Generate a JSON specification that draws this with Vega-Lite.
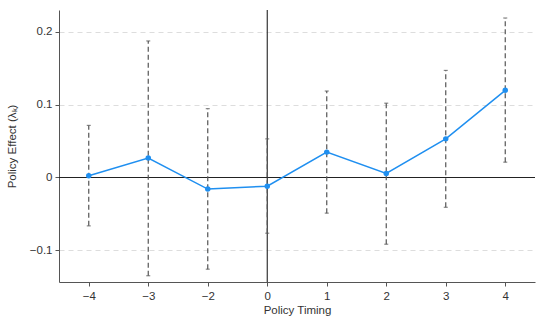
{
  "$schema": "https://vega.github.io/schema/vega-lite/v6.json",
  "autosize": {"type": "none"},
  "padding": {"left": 59, "top": 10, "right": 15, "bottom": 42},
  "width": 476,
  "height": 272,
  "background": "white",
  "config": {
    "font": "Liberation Sans",
    "view": {"stroke": null},
    "axis": {
      "labelFont": "Liberation Sans",
      "titleFont": "Liberation Sans",
      "labelFontSize": 11.5,
      "titleFontSize": 11.5,
      "titleFontWeight": "normal",
      "labelColor": "#333",
      "titleColor": "#333",
      "domainColor": "#555",
      "tickColor": "#555",
      "tickSize": 4
    }
  },
  "data": {
    "values": [
      {"t": -4, "est": 0.0023, "lo": -0.0665, "hi": 0.0715},
      {"t": -3, "est": 0.0266, "lo": -0.135, "hi": 0.1875},
      {"t": -2, "est": -0.016, "lo": -0.126, "hi": 0.0945},
      {"t": 0, "est": -0.012, "lo": -0.0766, "hi": 0.053},
      {"t": 1, "est": 0.0348, "lo": -0.049, "hi": 0.1187},
      {"t": 2, "est": 0.0055, "lo": -0.0917, "hi": 0.102},
      {"t": 3, "est": 0.053, "lo": -0.041, "hi": 0.147},
      {"t": 4, "est": 0.1197, "lo": 0.021, "hi": 0.219}
    ]
  },
  "layer": [
    {
      "mark": {"type": "rule", "color": "#222", "strokeWidth": 1.1},
      "encoding": {
        "y": {
          "datum": 0,
          "type": "quantitative",
          "scale": {"domain": [-0.1436, 0.23], "nice": false, "zero": false},
          "axis": {
            "title": "Policy Effect (λₖ)",
            "values": [-0.1, 0, 0.1, 0.2],
            "labelExpr": "datum.value == 0 ? '0' : replace(format(datum.value, '.1f'), '-', '−')",
            "grid": true,
            "gridColor": "#ddd",
            "gridDash": [5, 4],
            "titlePadding": 12,
            "labelPadding": 3
          }
        }
      }
    },
    {
      "encoding": {
        "x": {
          "field": "t",
          "type": "ordinal",
          "sort": "ascending",
          "scale": {"type": "point", "padding": 0.5},
          "axis": {
            "title": "Policy Timing",
            "labelAngle": 0,
            "labelExpr": "replace(datum.label, '-', '−')",
            "titlePadding": 3,
            "labelPadding": 4,
            "grid": false
          }
        }
      },
      "layer": [
        {
          "transform": [{"filter": "datum.t == 0"}],
          "mark": {"type": "rule", "color": "#222", "strokeWidth": 1.1},
          "encoding": {}
        },
        {
          "mark": {"type": "rule", "color": "#555", "strokeWidth": 1.2, "strokeDash": [5, 3]},
          "encoding": {
            "y": {"field": "lo", "type": "quantitative"},
            "y2": {"field": "hi"}
          }
        },
        {
          "mark": {"type": "tick", "color": "#555", "size": 4, "thickness": 1.2},
          "encoding": {"y": {"field": "lo", "type": "quantitative"}}
        },
        {
          "mark": {"type": "tick", "color": "#555", "size": 4, "thickness": 1.2},
          "encoding": {"y": {"field": "hi", "type": "quantitative"}}
        },
        {
          "mark": {"type": "line", "color": "#1f8ff0", "strokeWidth": 1.5},
          "encoding": {"y": {"field": "est", "type": "quantitative"}}
        },
        {
          "mark": {"type": "point", "filled": true, "color": "#1f8ff0", "size": 30, "opacity": 1},
          "encoding": {"y": {"field": "est", "type": "quantitative"}}
        }
      ]
    }
  ]
}
